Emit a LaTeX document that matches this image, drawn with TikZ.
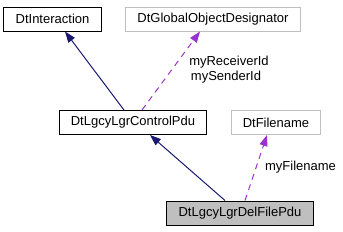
\documentclass[tikz,border=0pt]{standalone}
\usepackage{fontspec}
\setmainfont{Liberation Sans}
\usetikzlibrary{arrows.meta}
\definecolor{inh}{HTML}{191970}
\definecolor{use}{HTML}{9A32CD}
\definecolor{lgray}{HTML}{BFBFBF}
\begin{document}
\begin{tikzpicture}[x=1bp,y=-1bp,
  every node/.style={font=\fontsize{13bp}{15bp}\selectfont, inner sep=0pt},
  cls/.style={draw=black, line width=1bp, minimum height=24bp, anchor=center},
  ext/.style={draw=lgray, line width=1bp, minimum height=24bp, anchor=center},
  cur/.style={draw=black, fill=lgray, line width=1bp, minimum height=24bp, anchor=center},
  inhedge/.style={draw=inh, line width=1bp, -{Triangle[length=11bp,width=8bp]}},
  useedge/.style={draw=use, line width=1bp, dash pattern=on 6bp off 5bp, -{Triangle[length=11bp,width=8bp]}},
  lbl/.style={align=center}]
\useasboundingbox (0,0) rectangle (343,232);
\node[cls, minimum width=97bp] (inter) at (52.5,19) {DtInteraction};
\node[ext, minimum width=174bp] (gobj) at (213,19) {DtGlobalObjectDesignator};
\node[cls, minimum width=146bp] (ctrl) at (133,122.5) {DtLgcyLgrControlPdu};
\node[ext, minimum width=88bp] (fname) at (276,122.5) {DtFilename};
\node[cur, minimum width=146bp] (del) at (240,213) {DtLgcyLgrDelFilePdu};
\draw[inhedge] ([xshift=-9bp]ctrl.north) -- ([xshift=12.5bp]inter.south);
\draw[useedge] ([xshift=9bp]ctrl.north) -- ([xshift=-13bp]gobj.south);
\draw[inhedge] ([xshift=-15bp]del.north) -- ([xshift=17bp]ctrl.south);
\draw[useedge] ([xshift=5bp]del.north) -- ([xshift=-9bp]fname.south);
\node[lbl] (l1) at (229,62) {myReceiverId};
\node[lbl] (l2) at (226,77) {mySenderId};
\node[lbl] (l3) at (300.5,167) {myFilename};
\end{tikzpicture}
\end{document}
